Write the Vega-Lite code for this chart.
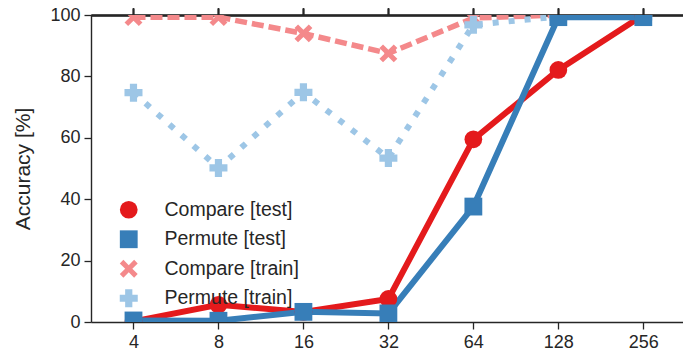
{
  "$schema": "https://vega.github.io/schema/vega-lite/v6.json",
  "width": 592,
  "height": 307,
  "autosize": {"type": "none"},
  "padding": {"left": 91, "top": 15, "right": 0, "bottom": 38},
  "background": "white",
  "config": {
    "view": {"stroke": null},
    "font": "Liberation Sans",
    "axis": {"grid": false, "domainColor": "#262626", "domainWidth": 1.4, "tickColor": "#262626", "tickWidth": 1.3, "tickSize": 7, "labelColor": "#262626", "labelFontSize": 18, "labelFont": "Liberation Sans", "titleColor": "#262626", "titleFont": "Liberation Sans", "titleFontWeight": "normal", "titleFontSize": 21},
    "axisTop": {"labels": false}
  },
  "data": {"values": [
    {"n": 4, "series": "Compare [train]", "acc": 99.3},
    {"n": 8, "series": "Compare [train]", "acc": 99.3},
    {"n": 16, "series": "Compare [train]", "acc": 94.0},
    {"n": 32, "series": "Compare [train]", "acc": 87.5},
    {"n": 64, "series": "Compare [train]", "acc": 99.0},
    {"n": 128, "series": "Compare [train]", "acc": 100},
    {"n": 256, "series": "Compare [train]", "acc": 100},
    {"n": 4, "series": "Permute [train]", "acc": 74.7},
    {"n": 8, "series": "Permute [train]", "acc": 50.2},
    {"n": 16, "series": "Permute [train]", "acc": 74.8},
    {"n": 32, "series": "Permute [train]", "acc": 53.4},
    {"n": 64, "series": "Permute [train]", "acc": 96.8},
    {"n": 128, "series": "Permute [train]", "acc": 99.5},
    {"n": 256, "series": "Permute [train]", "acc": 99.5},
    {"n": 4, "series": "Compare [test]", "acc": 0.2},
    {"n": 8, "series": "Compare [test]", "acc": 5.6},
    {"n": 16, "series": "Compare [test]", "acc": 3.3},
    {"n": 32, "series": "Compare [test]", "acc": 7.5},
    {"n": 64, "series": "Compare [test]", "acc": 59.5},
    {"n": 128, "series": "Compare [test]", "acc": 82.1},
    {"n": 256, "series": "Compare [test]", "acc": 100},
    {"n": 4, "series": "Permute [test]", "acc": 0.5},
    {"n": 8, "series": "Permute [test]", "acc": 0.4},
    {"n": 16, "series": "Permute [test]", "acc": 3.3},
    {"n": 32, "series": "Permute [test]", "acc": 2.8},
    {"n": 64, "series": "Permute [test]", "acc": 37.6},
    {"n": 128, "series": "Permute [test]", "acc": 99.3},
    {"n": 256, "series": "Permute [test]", "acc": 99.3}
  ]},
  "encoding": {
    "x": {"field": "n", "type": "quantitative",
      "scale": {"type": "log", "base": 2, "domain": [2.8284, 353.9], "nice": false, "zero": false},
      "axis": {"values": [4, 8, 16, 32, 64, 128, 256], "format": "d", "title": null, "labelPadding": 4, "labelFlush": false}},
    "y": {"field": "acc", "type": "quantitative",
      "scale": {"domain": [0, 100], "nice": false},
      "axis": {"values": [0, 20, 40, 60, 80, 100], "title": "Accuracy [%]", "labelPadding": 4, "titlePadding": 16}}
  },
  "layer": [
    {
      "transform": [{"filter": "datum.series === 'Compare [train]'"}],
      "mark": {"type": "line", "clip": true, "color": "#f4898b", "strokeWidth": 5.5, "strokeDash": [12, 5], "strokeCap": "butt"}
    },
    {
      "transform": [{"filter": "datum.series === 'Permute [train]'"}],
      "mark": {"type": "line", "clip": true, "color": "#9dc6e6", "strokeWidth": 6, "strokeDash": [6, 10], "strokeCap": "butt"}
    },
    {
      "transform": [{"filter": "datum.series === 'Compare [train]' || datum.series === 'Permute [train]'"}],
      "mark": {"type": "point", "filled": true, "opacity": 1, "clip": true, "strokeWidth": 0},
      "encoding": {
        "color": {"field": "series", "type": "nominal"},
        "shape": {"field": "series", "type": "nominal"},
        "size": {"field": "series", "type": "nominal"}
      }
    },
    {
      "transform": [{"filter": "datum.series === 'Compare [test]'"}],
      "mark": {"type": "line", "clip": true, "color": "#e41a1c", "strokeWidth": 6}
    },
    {
      "transform": [{"filter": "datum.series === 'Permute [test]'"}],
      "mark": {"type": "line", "clip": true, "color": "#377eb8", "strokeWidth": 6}
    },
    {
      "transform": [{"filter": "datum.series === 'Compare [test]' || datum.series === 'Permute [test]'"}],
      "mark": {"type": "point", "filled": true, "opacity": 1, "clip": true, "strokeWidth": 0},
      "encoding": {
        "color": {"field": "series", "type": "nominal",
          "scale": {"domain": ["Compare [test]", "Permute [test]", "Compare [train]", "Permute [train]"], "range": ["#e41a1c", "#377eb8", "#f4898b", "#9dc6e6"]},
          "legend": {"title": null, "orient": "none", "legendX": 28, "legendY": 185, "labelFontSize": 19.5, "labelColor": "#262626", "labelOffset": 26, "rowPadding": 8.5, "symbolOpacity": 1, "symbolStrokeWidth": 0, "padding": 0}},
        "shape": {"field": "series", "type": "nominal",
          "scale": {"domain": ["Compare [test]", "Permute [test]", "Compare [train]", "Permute [train]"], "range": ["circle", "square", "M-1,-0.6L-0.6,-1L0,-0.4L0.6,-1L1,-0.6L0.4,0L1,0.6L0.6,1L0,0.4L-0.6,1L-1,0.6L-0.4,0Z", "cross"]}},
        "size": {"field": "series", "type": "nominal",
          "scale": {"domain": ["Compare [test]", "Permute [test]", "Compare [train]", "Permute [train]"], "range": [314, 324, 289, 240]}}
      }
    },
    {
      "mark": {"type": "point", "opacity": 0, "size": 0},
      "encoding": {
        "x": {"field": "n", "type": "quantitative",
          "axis": {"orient": "top", "values": [4, 8, 16, 32, 64, 128, 256], "labels": false, "labelExpr": "''", "title": null}}
      }
    }
  ],
  "resolve": {"axis": {"x": "independent"}}
}
